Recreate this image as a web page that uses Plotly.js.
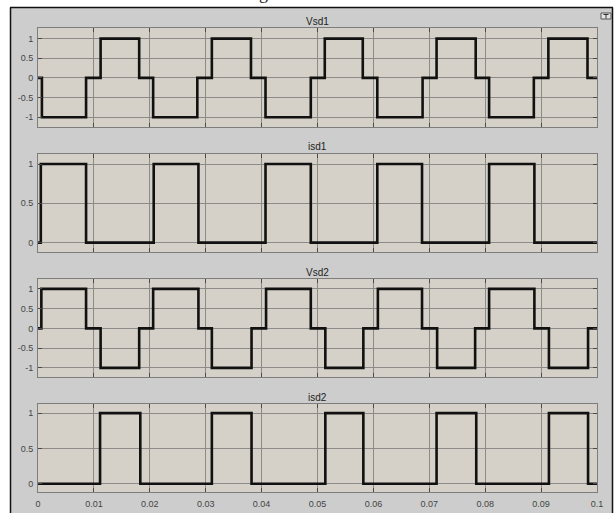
<!DOCTYPE html>
<html>
<head>
<meta charset="utf-8">
<script src="https://cdn.plot.ly/plotly-3.0.1.min.js"></script>
<style>html,body{margin:0;padding:0;background:#fff;}#chart{width:615px;height:513px;}</style>
</head>
<body>
<div id="chart"></div>
<script>
// ---- data (time in s, step values) ----
var titles = ['Vsd1', 'isd1', 'Vsd2', 'isd2'];

var vsd1T = [0, 0.0007, 0.0086, 0.0112, 0.0181, 0.0206, 0.0285, 0.0311, 0.0381, 0.0407, 0.0488, 0.0513, 0.0581, 0.0607, 0.0688, 0.0713, 0.0783, 0.0807, 0.0887, 0.0913, 0.0983, 0.1];
var vsd1V = [0, -1, 0, 1, 0, -1, 0, 1, 0, -1, 0, 1, 0, -1, 0, 1, 0, -1, 0, 1, 0, 0];

var isd1T = [0, 0.0005, 0.0086, 0.0207, 0.0287, 0.0407, 0.0488, 0.0607, 0.0687, 0.0807, 0.0888, 0.1];
var isd1V = [0, 1, 0, 1, 0, 1, 0, 1, 0, 1, 0, 0];

var vsd2T = [0, 0.0006, 0.0086, 0.0112, 0.0181, 0.0206, 0.0287, 0.0311, 0.0382, 0.0408, 0.0488, 0.0514, 0.0582, 0.0608, 0.0687, 0.0714, 0.0782, 0.0807, 0.0888, 0.0914, 0.0984, 0.1];
var vsd2V = [0, 1, 0, -1, 0, 1, 0, -1, 0, 1, 0, -1, 0, 1, 0, -1, 0, 1, 0, -1, 0, 0];

var isd2T = [0, 0.0111, 0.0183, 0.0311, 0.0382, 0.0514, 0.0582, 0.0713, 0.0784, 0.0914, 0.0984, 0.1];
var isd2V = [0, 1, 0, 1, 0, 1, 0, 1, 0, 1, 0, 0];

var vTickVals = [-1, -0.5, 0, 0.5, 1];
var vTickText = ['-1', '-0.5', '0', '0.5', '1'];
var iTickVals = [0, 0.5, 1];
var iTickText = ['0', '0.5', '1'];
var xTickVals = [0, 0.01, 0.02, 0.03, 0.04, 0.05, 0.06, 0.07, 0.08, 0.09, 0.1];
var xTickText = ['0', '0.01', '0.02', '0.03', '0.04', '0.05', '0.06', '0.07', '0.08', '0.09', '0.1'];

// ---- layout helpers (pixels -> paper fractions) ----
var W = 615, H = 513;
function px(x) { return x / W; }
function py(y) { return 1 - y / H; }

var series = [[vsd1T, vsd1V], [isd1T, isd1V], [vsd2T, vsd2V], [isd2T, isd2V]];
var boxes = [[28, 127], [154, 252], [279, 377], [404, 492]];
var ranges = [[-1.25, 1.27], [-0.12, 1.128], [-1.23, 1.25], [-0.118, 1.13]];
var ticks = [[vTickVals, vTickText], [iTickVals, iTickText], [vTickVals, vTickText], [iTickVals, iTickText]];

var traces = [];
var layout = {
  width: W, height: H,
  margin: {l: 0, r: 0, t: 0, b: 0},
  paper_bgcolor: '#cdcdcd',
  plot_bgcolor: '#d5d0c8',
  showlegend: false,
  font: {family: 'Liberation Sans, Arial, sans-serif', color: '#333'},
  shapes: [], annotations: []
};

var gridC = '#8d8b88', lineC = '#7d7d7d', tickC = '#4a4a4a';

for (var i = 0; i < 4; i++) {
  var n = i + 1;
  var xa = 'x' + (n === 1 ? '' : n), ya = 'y' + (n === 1 ? '' : n);
  traces.push({
    x: series[i][0], y: series[i][1], xaxis: xa, yaxis: ya,
    type: 'scatter', mode: 'lines',
    line: {shape: 'hv', color: '#111', width: 2.6},
    hoverinfo: 'skip'
  });
  var xk = 'xaxis' + (n === 1 ? '' : n), yk = 'yaxis' + (n === 1 ? '' : n);
  layout[xk] = {
    domain: [px(38), px(597)], anchor: ya, range: [0, 0.1],
    tickvals: xTickVals, ticktext: xTickText,
    showticklabels: i === 3, ticks: 'inside', ticklen: 4, tickcolor: tickC, tickwidth: 1,
    showgrid: true, gridcolor: gridC, gridwidth: 1, zeroline: false,
    showline: true, linecolor: lineC, linewidth: 1, mirror: 'ticks',
    tickfont: {size: 9, color: '#444'}, ticklabelstandoff: 3,
    fixedrange: true
  };
  if (n > 1) layout[xk].matches = 'x';
  layout[yk] = {
    domain: [py(boxes[i][1]), py(boxes[i][0])], anchor: xa, range: ranges[i],
    tickvals: ticks[i][0], ticktext: ticks[i][1],
    ticks: 'inside', ticklen: 4, tickcolor: tickC, tickwidth: 1,
    showgrid: true, gridcolor: gridC, gridwidth: 1, zeroline: false,
    showline: true, linecolor: lineC, linewidth: 1, mirror: 'ticks',
    tickfont: {size: 9, color: '#444'}, ticklabelstandoff: 2,
    fixedrange: true
  };
  layout.annotations.push({
    text: titles[i], xref: 'paper', yref: 'paper',
    x: px(317.5), y: py(boxes[i][0] - 7), xanchor: 'center', yanchor: 'middle',
    showarrow: false, font: {size: 10, color: '#222'}
  });
}

// white margins outside the scope frame, and frame border
layout.shapes.push(
  {type: 'rect', xref: 'paper', yref: 'paper', x0: 0, x1: 1, y0: py(7), y1: 1.01, fillcolor: '#fff', line: {width: 0}},
  {type: 'rect', xref: 'paper', yref: 'paper', x0: -0.01, x1: px(10), y0: -0.01, y1: 1.01, fillcolor: '#fff', line: {width: 0}},
  {type: 'rect', xref: 'paper', yref: 'paper', x0: px(613), x1: 1.01, y0: -0.01, y1: 1.01, fillcolor: '#fff', line: {width: 0}},
  {type: 'line', xref: 'paper', yref: 'paper', x0: px(10), x1: px(613), y0: py(7.5), y1: py(7.5), line: {color: '#111', width: 1.5}},
  {type: 'line', xref: 'paper', yref: 'paper', x0: px(10.5), x1: px(10.5), y0: py(7.5), y1: -0.01, line: {color: '#111', width: 1.5}},
  {type: 'line', xref: 'paper', yref: 'paper', x0: px(612.5), x1: px(612.5), y0: py(7.5), y1: -0.01, line: {color: '#111', width: 1.5}},
  // small undock icon at top right
  {type: 'rect', xref: 'paper', yref: 'paper', x0: px(601), x1: px(611), y0: py(19), y1: py(13), fillcolor: '#e4e4e4', line: {color: '#555', width: 1}},
  {type: 'line', xref: 'paper', yref: 'paper', x0: px(606), x1: px(606), y0: py(18.5), y1: py(14), line: {color: '#333', width: 1}},
  {type: 'line', xref: 'paper', yref: 'paper', x0: px(603.5), x1: px(608.5), y0: py(14.5), y1: py(14.5), line: {color: '#333', width: 1}}
);

// clipped caption descender above the frame
layout.annotations.push({
  text: 'g', xref: 'paper', yref: 'paper', x: px(263), y: py(5), xanchor: 'center', yanchor: 'bottom',
  showarrow: false, font: {size: 18, family: 'Liberation Serif, Times New Roman, serif', color: '#222'}
});

Plotly.newPlot('chart', traces, layout, {displayModeBar: false, staticPlot: true});
</script>
</body>
</html>
